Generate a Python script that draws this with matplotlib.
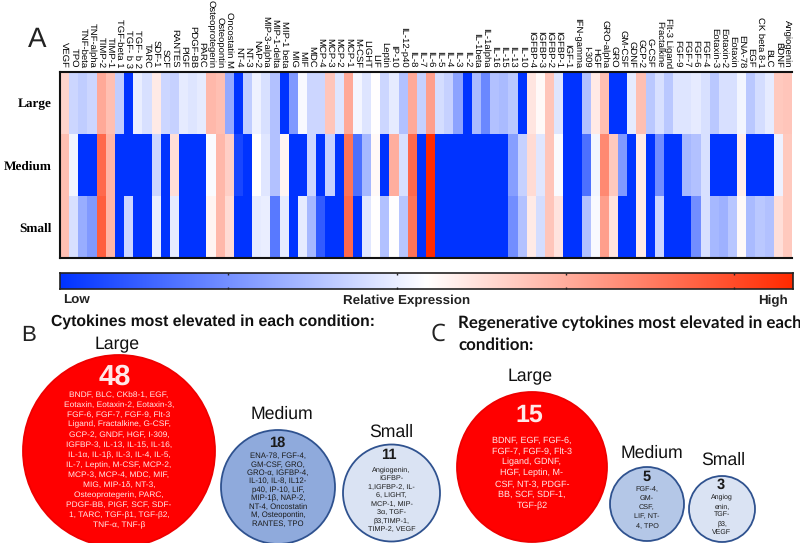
import numpy as np
import matplotlib
matplotlib.use('Agg')
import matplotlib.pyplot as plt
from matplotlib.colors import LinearSegmentedColormap
from matplotlib.patches import Circle

plt.rcParams['font.family'] = ['Liberation Sans', 'DejaVu Sans']
plt.rcParams['text.hinting'] = 'none'

# Heatmap data
cytokines = ['VEGF', 'TPO', 'TNF-beta', 'TNF-alpha', 'TIMP-2', 'TIMP-1', 'TGF-beta 1', 'TGF- b 3', 'TGF- b 2', 'TARC',
             'SDF-1', 'SCF', 'RANTES', 'PlGF', 'PDGF-BB', 'PARC', 'Osteoprotegerin', 'Osteopontin', 'Oncostatin M', 'NT-4',
             'NT-3', 'NAP-2', 'MIP-3-alpha', 'MIP-1-delta', 'MIP-1 beta', 'MIG', 'MIF', 'MDC', 'MCP-4', 'MCP-3',
             'MCP-2', 'MCP-1', 'M-CSF', 'LIGHT', 'LIF', 'Leptin', 'IP-10', 'IL-12-p40', 'IL-8', 'IL-7',
             'IL-6', 'IL-5', 'IL-4', 'IL-3', 'IL-2', 'IL-1beta', 'IL-1alpha', 'IL-16', 'IL-15', 'IL-13',
             'IL-10', 'IGFBP-4', 'IGFBP-3', 'IGFBP-2', 'IGFBP-1', 'IGF-1', 'IFN-gamma', 'I-309', 'HGF', 'GRO-alpha',
             'GRO', 'GM-CSF', 'GDNF', 'GCP-2', 'G-CSF', 'Fractalkine', 'Flt-3 Ligand', 'FGF-9', 'FGF-7', 'FGF-6',
             'FGF-4', 'Eotaxin-3', 'Eotaxin-2', 'Eotaxin', 'ENA-78', 'EGF', 'CK beta 8-1', 'BLC', 'BDNF', 'Angiogenin']
rows = ['Large', 'Medium', 'Small']

large = [.2, -.2, -.25, -.2, .4, .3, -.25, -1, -.08, -.15,
         .1, -.2, -.22, -.1, -.13, -.1, .33, .3, -.42, -1,
         -.25, -.07, -.15, -.3, -1, -.5, -.03, -.2, -.2, .27,
         -.13, .4, -.04, -.13, 0, -.2, -.1, -.3, .4, -.22,
         .45, -.17, -.22, -.45, -1, -.33, -.58, -.3, -.33, -.27,
         -1, .12, .03, .27, -.13, -1, -1, -.3, .1, .3,
         -1, -1, -.1, .3, -.27, -.15, -.27, -.13, -.13, -.1,
         -.15, -.27, -.15, -.15, -.05, -.27, -.17, -.1, .25, .27]
medium = [.3, -.05, -1, -1, .7, .35, -1, -1, -1, -1,
          -.2, -1, .15, -1, -1, -1, -.02, .33, .22, -.9,
          -1, 0, -.12, -.3, .05, -1, -1, -.2, -1, -.22,
          -1, .65, -.7, -.35, .03, -1, .38, -.15, .7, -1,
          1, -1, -1, -1, -1, -1, -1, -1, -1, -.47,
          -.22, .17, -.12, .27, -.02, -1, -1, -.7, -.05, .55,
          .25, -.5, -1, .1, -1, -.55, -1, -1, -.35, -.3,
          -.15, -1, -1, -1, .08, -1, -1, -1, -.07, .25]
small = [.3, -.15, -.4, -.5, .75, .35, -1, -.2, -1, -1,
         -.08, -1, -.1, -1, -1, -1, .05, .33, .17, -1,
         -1, -.1, -.08, -.65, -.1, -1, -.1, -.35, -.8, -1,
         -1, .7, -1, -.12, 0, -.3, 0, -.28, .65, -1,
         1, -1, -1, -1, -1, -1, -1, -1, -1, -.55,
         -.3, .1, -.17, .27, .13, -1, -1, -.3, -.03, .45,
         .13, -1, -1, .1, -1, -.2, -1, -1, -1, -.55,
         -.15, -.35, -.38, -.28, .03, -.33, -.27, -.3, .15, .25]

# Circle contents
b_large = ['BNDF, BLC, CKb8-1, EGF,', 'Eotaxin, Eotaxin-2, Eotaxin-3,', 'FGF-6, FGF-7, FGF-9, Flt-3',
           'Ligand, Fractalkine, G-CSF,', 'GCP-2, GNDF, HGF, I-309,', 'IGFBP-3, IL-13, IL-15, IL-16,',
           'IL-1α, IL-1β, IL-3, IL-4, IL-5,', 'IL-7, Leptin, M-CSF, MCP-2,', 'MCP-3, MCP-4, MDC, MIF,',
           'MIG, MIP-1δ, NT-3,', 'Osteoprotegerin, PARC,', 'PDGF-BB, PIGF, SCF, SDF-',
           '1, TARC, TGF-β1, TGF-β2,', 'TNF-α, TNF-β']
b_medium = ['ENA-78, FGF-4,', 'GM-CSF, GRO,', 'GRO-α, IGFBP-4,', 'IL-10, IL-8, IL12-', 'p40, IP-10, LIF,',
            'MIP-1β, NAP-2,', 'NT-4, Oncostatin', 'M, Osteopontin,', 'RANTES, TPO']
b_small = ['Angiogenin,', 'IGFBP-', '1,IGFBP-2, IL-', '6, LIGHT,', 'MCP-1, MIP-', '3α, TGF-', 'β3,TIMP-1,', 'TIMP-2, VEGF']
c_large = ['BDNF, EGF, FGF-6,', 'FGF-7, FGF-9, Flt-3', 'Ligand, GDNF,', 'HGF, Leptin, M-', 'CSF, NT-3, PDGF-',
           'BB, SCF, SDF-1,', 'TGF-β2']
c_medium = ['FGF-4,', 'GM-', 'CSF,', 'LIF, NT-', '4, TPO']
c_small = ['Angiog', 'enin,', 'TGF-', 'β3,', 'VEGF']

W, H = 800, 543
fig = plt.figure(figsize=(W / 100, H / 100), dpi=100)
cmap = LinearSegmentedColormap.from_list('bwr2', ['#0033ff', '#ffffff', '#ff2a00'])


def px_axes(x0, y0, x1, y1):
    return fig.add_axes([x0 / W, 1 - y1 / H, (x1 - x0) / W, (y1 - y0) / H])


# Heatmap
ax = px_axes(60, 72, 792, 258)
ax.pcolormesh(np.array([large, medium, small]), cmap=cmap, vmin=-1, vmax=1)
ax.invert_yaxis()
ax.set_xticks(np.arange(len(cytokines)) + 0.5)
ax.set_xticklabels(cytokines, rotation=-90, fontsize=6.8, ha='center', va='bottom', color='black')
ax.xaxis.tick_top()
ax.tick_params(axis='x', length=0, pad=3)
ax.set_yticks(np.arange(3) + 0.5)
ax.set_yticklabels(rows, family='Liberation Serif', fontweight='bold', fontsize=9.5)
ax.tick_params(axis='y', length=0, pad=6)
for s in ax.spines.values():
    s.set_linewidth(1.5)
for s in ['left', 'top', 'bottom']:
    ax.spines[s].set_color('#111111')
ax.spines['right'].set_visible(False)

# Colour bar
cax = px_axes(60, 273, 793, 289)
cax.imshow(np.linspace(-1, 1, 256).reshape(1, -1), cmap=cmap, vmin=-1, vmax=1, aspect='auto', extent=[0, 1, 0, 1])
cax.set_yticks([])
cax.set_xticks([0.229, 0.46, 0.69, 0.92])
cax.set_xticklabels([])
cax.tick_params(axis='x', length=1.5, width=1, direction='in', top=True, bottom=True, color='#222222')
for s in cax.spines.values():
    s.set_linewidth(1.2)
    s.set_color('#222222')

# Everything else in pixel coordinates
ov = fig.add_axes([0, 0, 1, 1])
ov.set_xlim(0, W)
ov.set_ylim(H, 0)
ov.axis('off')
ov.patch.set_alpha(0)

for txt, x, ha in [('Low', 63, 'left'), ('Relative Expression', 407, 'center'), ('High', 773, 'center')]:
    ov.text(x, 301, txt, fontsize=9.6, fontweight='bold', ha=ha, va='center', color='#222222')

ov.text(37, 40, 'A', fontsize=20, ha='center', va='center', color='#222222')
ov.text(29, 335, 'B', fontsize=16, ha='center', va='center', color='#222222')
ov.text(438, 335, 'C', fontsize=17, ha='center', va='center', color='#222222', family='Open Sans')
ov.text(51, 322, 'Cytokines most elevated in each condition:', fontsize=11.3, fontweight='bold',
        ha='left', va='center', color='#111111')
ov.text(458, 323, 'Regenerative cytokines most elevated in each', fontsize=12.2, fontweight='bold',
        ha='left', va='center', color='#111111', family='Lato')
ov.text(458, 345, 'condition:', fontsize=12.2, fontweight='bold', ha='left', va='center', color='#111111',
        family='Lato')


def bubble(x, y, r, fill, edge, title, tx, ty, num, nx, ny, nsize, lines, ly, dy, fs, col):
    ov.add_patch(Circle((x, y), r, facecolor=fill, edgecolor=edge, linewidth=1.3, clip_on=False))
    ov.text(tx, ty, title, fontsize=12.7, ha='center', va='center', color='#111111')
    ov.text(nx, ny, num, fontsize=nsize, fontweight='bold', ha='center', va='center', color=col)
    for i, line in enumerate(lines):
        ov.text(x, ly + i * dy, line, fontsize=fs, ha='center', va='center', color=col)


bubble(119, 451, 96, '#ff0000', '#ee0000', 'Large', 117, 345, '48', 115, 377, 21, b_large, 394.5, 10.05, 6.0, '#ffe8e8')
bubble(278, 487, 57, '#8faadc', '#2f528f', 'Medium', 282, 414, '18', 277, 443, 10.5, b_medium, 456, 8.45, 5.6, '#1a1a1a')
bubble(391.5, 493, 48.5, '#dae3f3', '#2f528f', 'Small', 391, 432, '11', 389, 455, 10.5, b_small, 470, 8.5, 5.2, '#1a1a1a')
bubble(532, 467, 75, '#ff0000', '#ee0000', 'Large', 530, 377, '15', 529, 415, 18, c_large, 440.5, 10.9, 6.5, '#ffe8e8')
bubble(647, 504, 37, '#b4c7e7', '#2f528f', 'Medium', 652, 453, '5', 647, 477, 10.5, c_medium, 489, 9.2, 5.2, '#1a1a1a')
bubble(722, 509, 33, '#dae3f3', '#2f528f', 'Small', 723, 460, '3', 721, 485, 10.5, c_small, 497, 8.8, 5.0, '#1a1a1a')

fig.savefig('out.png', dpi=100)
